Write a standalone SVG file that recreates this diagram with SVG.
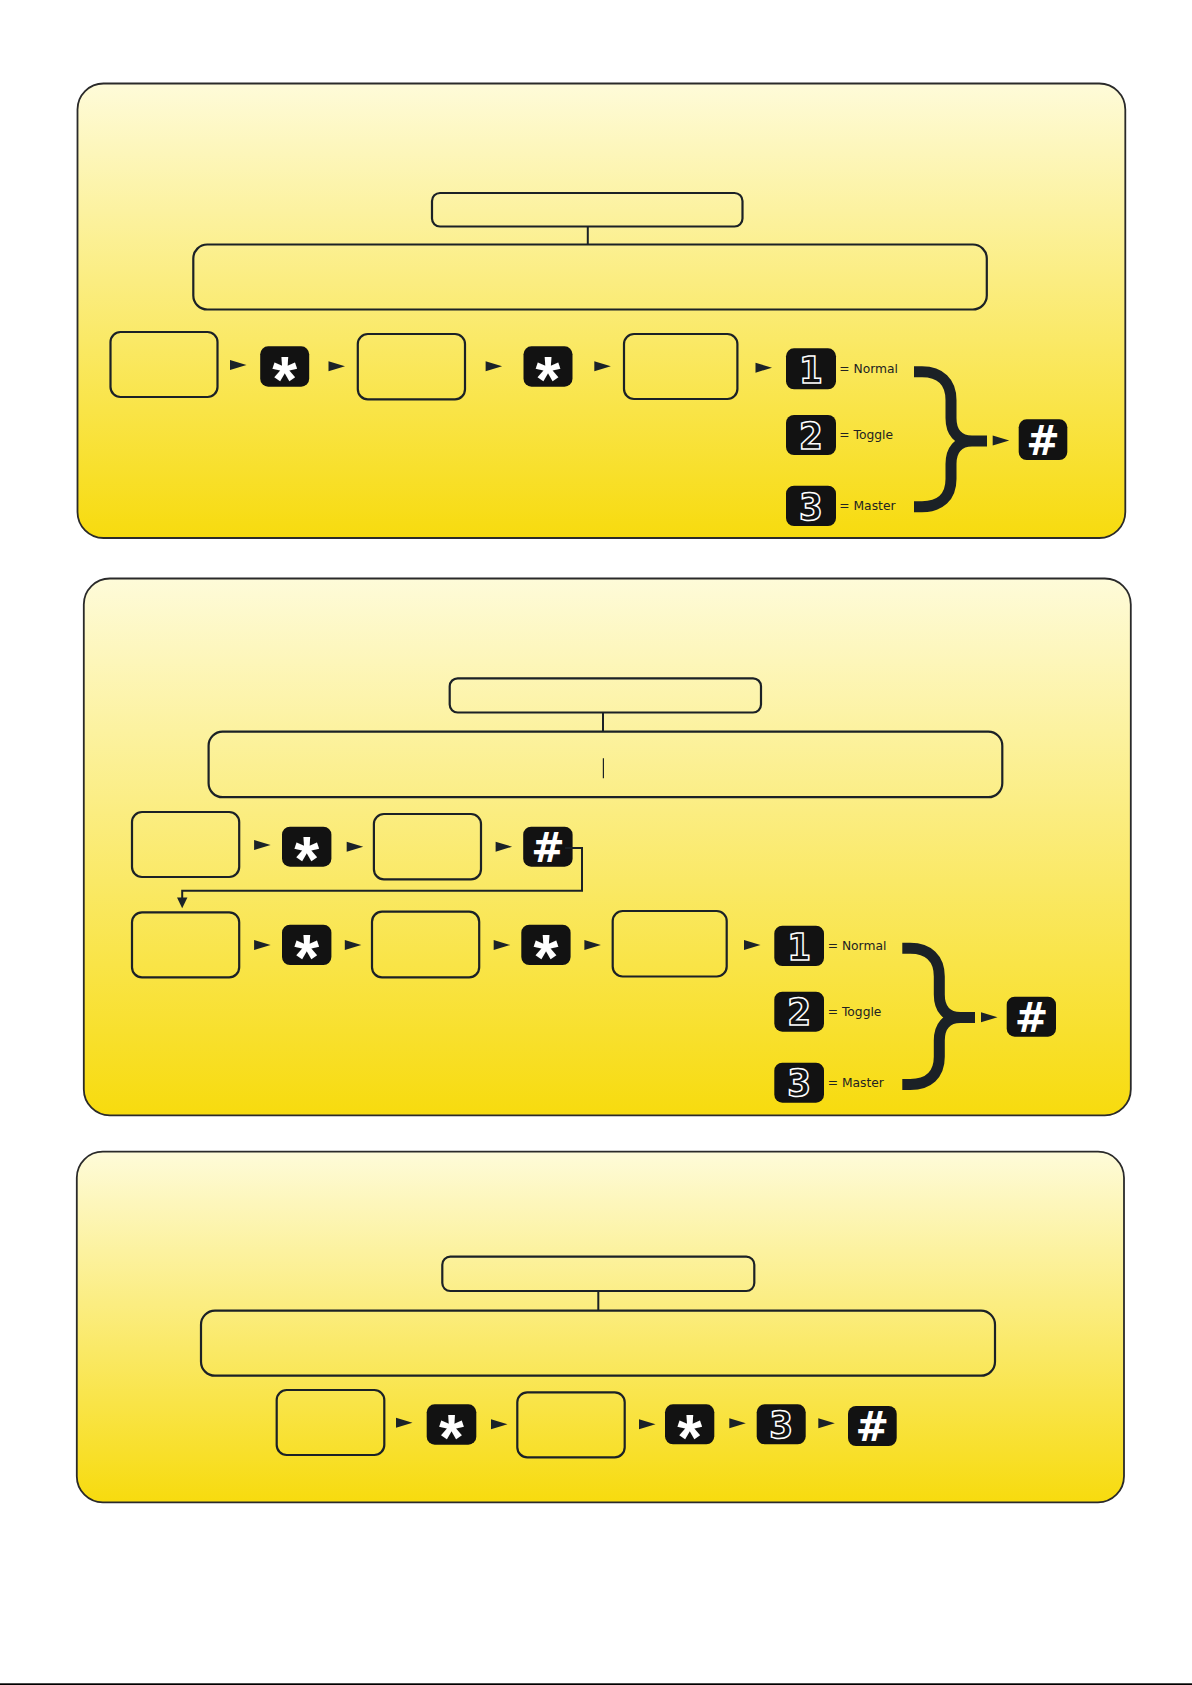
<svg xmlns="http://www.w3.org/2000/svg" width="1192" height="1685" viewBox="0 0 1192 1685">
<defs>
<linearGradient id="pg" x1="0" y1="0" x2="0" y2="1">
<stop offset="0" stop-color="#fefbd9"/>
<stop offset="1" stop-color="#f7db0e"/>
</linearGradient>
<path id="ar" d="M0,-5 L16.5,0 L0,5 Z" fill="#1b2228"/>
</defs>
<style>
.panel{fill:url(#pg);stroke:#2a2a2a;stroke-width:1.8}
.box{fill:none;stroke:#1b2126;stroke-width:2.2}
.key{fill:#121212}
.star{font-family:"Liberation Sans",sans-serif;font-weight:700;font-size:64px;fill:#fff;text-anchor:middle}
.hash{font-family:"DejaVu Sans",sans-serif;font-weight:700;font-size:40px;fill:#fff;text-anchor:middle}
.dig{font-family:"DejaVu Sans Condensed","DejaVu Sans",sans-serif;font-weight:700;font-size:38px;fill:#121212;stroke:#fff;stroke-width:1.5;text-anchor:middle}
.lbl{font-family:"DejaVu Sans",sans-serif;font-size:12.3px;fill:#222}
.ln{fill:none;stroke:#1b2126;stroke-width:2}
.brace{fill:none;stroke:#1b2126;stroke-width:11;stroke-linejoin:round}
</style>

<g id="panel1">
<rect class="panel" x="77.5" y="83.5" width="1047.8" height="454.5" rx="26"/>
<g id="p1-title"><rect class="box" x="432" y="193" width="310.5" height="33.5" rx="8"/></g>
<g id="p1-desc"><rect class="box" x="193.3" y="244.5" width="793.5" height="65" rx="14"/></g>
<g id="p1-box1"><rect class="box" x="110.5" y="332" width="107" height="65" rx="10"/></g>
<g id="p1-star1"><rect class="key" x="260.2" y="346.3" width="49" height="40.4" rx="8"/><text class="star" x="284.7" y="402">*</text></g>
<g id="p1-box2"><rect class="box" x="357.8" y="334" width="107.2" height="65.3" rx="10"/></g>
<g id="p1-star2"><rect class="key" x="523.5" y="346.3" width="49" height="40.4" rx="8"/><text class="star" x="548" y="402">*</text></g>
<g id="p1-box3"><rect class="box" x="624" y="334" width="113.4" height="65" rx="10"/></g>
<g id="p1-key1"><rect class="key" x="786" y="348.3" width="50" height="41" rx="8"/><text class="dig" x="811" y="382.5">1</text><text class="lbl" x="839.3" y="373">= Normal</text></g>
<g id="p1-key2"><rect class="key" x="786" y="415" width="50" height="40" rx="8"/><text class="dig" x="811" y="448.5">2</text><text class="lbl" x="839.3" y="439.3">= Toggle</text></g>
<g id="p1-key3"><rect class="key" x="786" y="485.7" width="50" height="40.3" rx="8"/><text class="dig" x="811" y="519.5">3</text><text class="lbl" x="839.3" y="510">= Master</text></g>
<g id="p1-hash"><rect class="key" x="1018.7" y="419.3" width="48.6" height="40.7" rx="8"/><text class="hash" x="1043" y="454.5">#</text></g>
</g>

<g id="panel2">
<rect class="panel" x="83.8" y="578.5" width="1047" height="536.8" rx="26"/>
<g id="p2-title"><rect class="box" x="449.7" y="678.3" width="311.3" height="34.2" rx="8"/></g>
<g id="p2-desc"><rect class="box" x="208.6" y="731.7" width="793.7" height="65.5" rx="14"/><line x1="603.4" y1="758.3" x2="603.4" y2="778.3" stroke="#1b2126" stroke-width="1.2"/></g>
<g id="p2-a-box1"><rect class="box" x="132" y="812" width="107.2" height="65" rx="10"/></g>
<g id="p2-a-star"><rect class="key" x="282" y="826.7" width="49.4" height="40" rx="8"/><text class="star" x="306.7" y="882">*</text></g>
<g id="p2-a-box2"><rect class="box" x="373.9" y="814" width="107.1" height="65.3" rx="10"/></g>
<g id="p2-a-hash"><rect class="key" x="523.2" y="826.7" width="49.4" height="40" rx="8"/><text class="hash" x="547.9" y="861.5">#</text></g>
<g id="p2-b-box1"><rect class="box" x="132" y="912.3" width="107.2" height="65" rx="10"/></g>
<g id="p2-b-star1"><rect class="key" x="282" y="924.7" width="49.4" height="40.3" rx="8"/><text class="star" x="306.7" y="980.2">*</text></g>
<g id="p2-b-box2"><rect class="box" x="372" y="911.7" width="107.2" height="65.6" rx="10"/></g>
<g id="p2-b-star2"><rect class="key" x="521.3" y="924.7" width="49.3" height="40.3" rx="8"/><text class="star" x="546" y="980.2">*</text></g>
<g id="p2-b-box3"><rect class="box" x="612.7" y="911" width="114" height="65.5" rx="10"/></g>
<g id="p2-key1"><rect class="key" x="774.3" y="925.7" width="49.7" height="40.3" rx="8"/><text class="dig" x="799.2" y="959.5">1</text><text class="lbl" x="827.7" y="950">= Normal</text></g>
<g id="p2-key2"><rect class="key" x="774.3" y="991.7" width="49.7" height="40" rx="8"/><text class="dig" x="799.2" y="1025.2">2</text><text class="lbl" x="827.7" y="1015.7">= Toggle</text></g>
<g id="p2-key3"><rect class="key" x="774.3" y="1062.7" width="49.7" height="40" rx="8"/><text class="dig" x="799.2" y="1096.2">3</text><text class="lbl" x="827.7" y="1086.7">= Master</text></g>
<g id="p2-hash"><rect class="key" x="1006.7" y="996.7" width="49.3" height="40" rx="8"/><text class="hash" x="1031.4" y="1031.5">#</text></g>
</g>

<g id="panel3">
<rect class="panel" x="76.8" y="1151.7" width="1047.2" height="350.6" rx="26"/>
<g id="p3-title"><rect class="box" x="442.3" y="1256.7" width="312" height="34.3" rx="8"/></g>
<g id="p3-desc"><rect class="box" x="201" y="1310.7" width="794" height="65" rx="14"/></g>
<g id="p3-box1"><rect class="box" x="276.7" y="1390" width="107.6" height="65" rx="10"/></g>
<g id="p3-star1"><rect class="key" x="426.7" y="1404.3" width="49.6" height="40.4" rx="8"/><text class="star" x="451.5" y="1460">*</text></g>
<g id="p3-box2"><rect class="box" x="517.3" y="1392.3" width="107.4" height="65" rx="10"/></g>
<g id="p3-star2"><rect class="key" x="665" y="1404.3" width="49.3" height="40" rx="8"/><text class="star" x="689.6" y="1460">*</text></g>
<g id="p3-key3"><rect class="key" x="756.7" y="1404.3" width="49" height="40" rx="8"/><text class="dig" x="781.2" y="1437.8">3</text></g>
<g id="p3-hash"><rect class="key" x="848" y="1406" width="48.7" height="40" rx="8"/><text class="hash" x="872.3" y="1440.8">#</text></g>
</g>

<g id="connectors">
<line class="ln" x1="587.8" y1="226.5" x2="587.8" y2="244.5"/>
<line class="ln" x1="603" y1="712.5" x2="603" y2="731.7"/>
<line class="ln" x1="598.3" y1="1291" x2="598.3" y2="1310.7"/>
<path class="ln" d="M565,848 H582 V890.7 H182.2 V899"/>
<path d="M177,897.5 L187.4,897.5 L182.2,908.3 Z" fill="#1b2228"/>
<path class="brace" d="M914,371.7 H922 C940,371.7 951,382 951,400 V418 C951,432 958,441 972,441 H987 M972,441 C958,441 951,450 951,464 V479 C951,497 940,506.7 922,506.7 H914"/>
<path class="brace" d="M902.3,948.3 H910.3 C928.3,948.3 939.3,958.6 939.3,976.6 V994.5 C939.3,1008.5 946.3,1017.5 960.3,1017.5 H975 M960.3,1017.5 C946.3,1017.5 939.3,1026.5 939.3,1040.5 V1056.8 C939.3,1074.8 928.3,1084.5 910.3,1084.5 H902.3"/>
<use href="#ar" x="230" y="365"/>
<use href="#ar" x="328.5" y="366.3"/>
<use href="#ar" x="485.6" y="366.3"/>
<use href="#ar" x="594.3" y="366.3"/>
<use href="#ar" x="755.5" y="367.7"/>
<use href="#ar" x="992.7" y="440.5"/>
<use href="#ar" x="254.1" y="845"/>
<use href="#ar" x="346.7" y="846.7"/>
<use href="#ar" x="495.6" y="846.7"/>
<use href="#ar" x="254.1" y="945"/>
<use href="#ar" x="344.8" y="945"/>
<use href="#ar" x="493.7" y="945"/>
<use href="#ar" x="584.4" y="945"/>
<use href="#ar" x="744" y="945"/>
<use href="#ar" x="981" y="1017.3"/>
<use href="#ar" x="396" y="1422.7"/>
<use href="#ar" x="491" y="1424.3"/>
<use href="#ar" x="639" y="1424.3"/>
<use href="#ar" x="729.3" y="1423.3"/>
<use href="#ar" x="818.3" y="1423.3"/>
</g>
<rect x="0" y="1683.3" width="1192" height="1.7" fill="#000"/>
</svg>
